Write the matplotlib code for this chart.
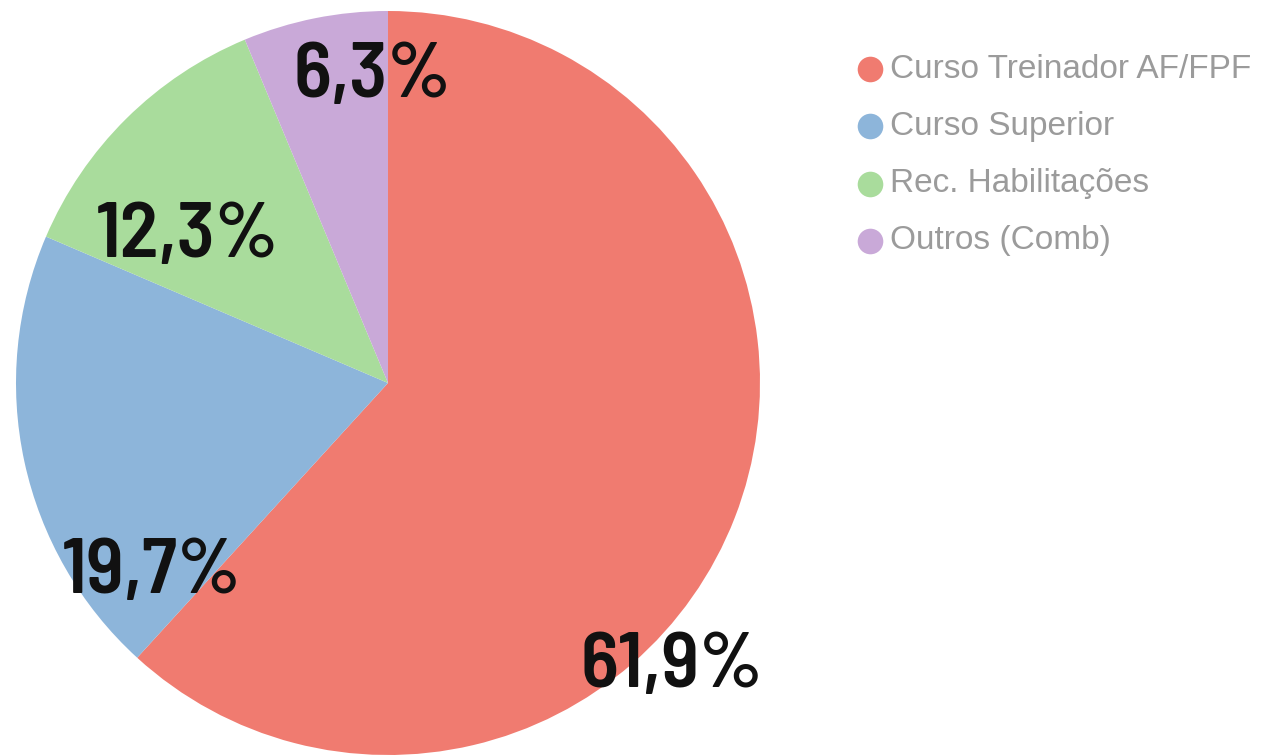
import matplotlib
matplotlib.use("Agg")
from matplotlib import pyplot as plt

categories = ["Curso Treinador AF/FPF", "Curso Superior", "Rec. Habilitações", "Outros (Comb)"]
shares = [61.9, 19.7, 12.3, 6.3]
labels = ["61,9%", "19,7%", "12,3%", "6,3%"]
colors = ["#F07B70", "#8DB5DA", "#A9DC9C", "#C9A9D8"]

W, H = 1269, 756
fig = plt.figure(figsize=(W / 100, H / 100), dpi=100)
ax = fig.add_axes([0, 0, 1, 1])

# pie laid out in pixel units, clockwise from the top
ax.pie(shares, colors=colors, startangle=90, counterclock=False,
       center=(388, H - 383), radius=372, frame=True,
       wedgeprops=dict(linewidth=0))
ax.set_xlim(0, W)
ax.set_ylim(0, H)
ax.set_aspect("equal")
ax.axis("off")

# percentage labels (baseline positions)
label_pos = [(672, H - 687), (152, H - 593), (187, H - 257), (372, H - 97)]
for (x, y), txt in zip(label_pos, labels):
    ax.text(x, y, txt, ha="center", va="baseline", fontsize=57,
            fontweight=600, family=["Barlow Semi Condensed", "DejaVu Sans"],
            color="#111111")

# legend on the right
for i, (cat, c) in enumerate(zip(categories, colors)):
    y = H - (69 + 57.3 * i)
    ax.scatter([870], [y], s=340, color=c, linewidths=0, zorder=3)
    ax.text(890, y, cat, ha="left", va="center", fontsize=24,
            family=["Liberation Sans", "DejaVu Sans"], color="#9b9b9b")

fig.savefig("out.png", dpi=100)
